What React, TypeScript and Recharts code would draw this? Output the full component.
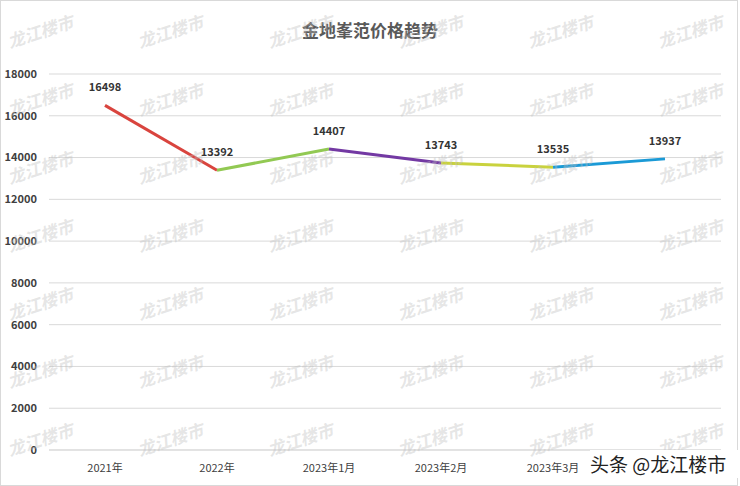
import { CartesianGrid, LabelList, Line, LineChart, XAxis, YAxis } from 'recharts'

const months = ['2021年', '2022年', '2023年1月', '2023年2月', '2023年3月', '2023年4月']
const prices = [16498, 13392, 14407, 13743, 13535, 13937]
const segColors = ['#d9443e', '#92c953', '#7339a3', '#c9d23e', '#1b9ad6']
const yTicks = [0, 2000, 4000, 6000, 8000, 10000, 12000, 14000, 16000, 18000]

// one series per segment so every piece of the line gets its own colour
const data = months.map((m, i) => {
    const row: any = { month: m, price: prices[i] }
    segColors.forEach((_, s) => {
        row['s' + s] = i === s || i === s + 1 ? prices[i] : null
    })
    return row
})

const font = '"Noto Sans CJK SC", "Noto Sans", sans-serif'

const Watermarks = () => {
    const marks = []
    for (let r = 0; r < 7; r++) {
        for (let c = 0; c < 6; c++) {
            marks.push(
                <div
                    key={r + '-' + c}
                    style={{
                        position: 'absolute',
                        left: 6 + c * 130,
                        top: 18 + r * 68,
                        fontSize: 17,
                        fontWeight: 'bold',
                        fontStyle: 'italic',
                        color: 'rgba(190,190,190,0.4)',
                        transform: 'rotate(-18deg)',
                        pointerEvents: 'none',
                        whiteSpace: 'nowrap',
                    }}
                >
                    龙江楼市
                </div>
            )
        }
    }
    return <>{marks}</>
}

const App = () => {
    return (
        <div style={{ position: 'fixed', left: 0, top: 0, width: 740, height: 486, background: '#fff', fontFamily: font, overflow: 'hidden' }}>
            <div style={{ position: 'absolute', left: 0, top: 0, width: 736, height: 484, border: '1px solid #d9d9d9' }} />
            <div style={{ position: 'absolute', left: 0, width: 740, top: 17, textAlign: 'center', fontSize: 17, fontWeight: 'bold', color: '#595959' }}>
                金地峯范价格趋势
            </div>
            <LineChart width={740} height={486} data={data} margin={{ top: 74, right: 19, bottom: 0, left: 0 }}>
                <CartesianGrid vertical={false} stroke="#d9d9d9" />
                <XAxis
                    dataKey="month"
                    padding={{ left: 56, right: 56 }}
                    height={36}
                    axisLine={{ stroke: '#d9d9d9' }}
                    tickLine={false}
                    tickMargin={8}
                    tick={{ fontSize: 11, fill: '#404040', fontFamily: font }}
                    // the last month label sits under the site stamp in the source image
                    tickFormatter={(v: string, i: number) => (i === months.length - 1 ? '' : v)}
                    interval={0}
                />
                <YAxis
                    width={49}
                    domain={[0, 18000]}
                    ticks={yTicks}
                    axisLine={false}
                    tickLine={false}
                    tickMargin={6}
                    tick={{ fontSize: 11, fill: '#404040', fontWeight: 'bold', fontFamily: font }}
                />
                {segColors.map((c, s) => (
                    <Line
                        key={s}
                        type="linear"
                        dataKey={'s' + s}
                        stroke={c}
                        strokeWidth={3}
                        dot={false}
                        activeDot={false}
                        connectNulls={false}
                        isAnimationActive={false}
                    />
                ))}
                <Line dataKey="price" stroke="none" dot={false} activeDot={false} isAnimationActive={false}>
                    <LabelList dataKey="price" position="top" offset={14} style={{ fontSize: 11, fontWeight: 'bold', fill: '#333', fontFamily: font }} />
                </Line>
            </LineChart>
            <Watermarks />
            <div style={{ position: 'absolute', left: 590, top: 450, width: 148, height: 28, background: '#fff', fontSize: 19, color: '#222', lineHeight: '28px', whiteSpace: 'nowrap' }}>
                头条 @龙江楼市
            </div>
        </div>
    )
}

export default App
